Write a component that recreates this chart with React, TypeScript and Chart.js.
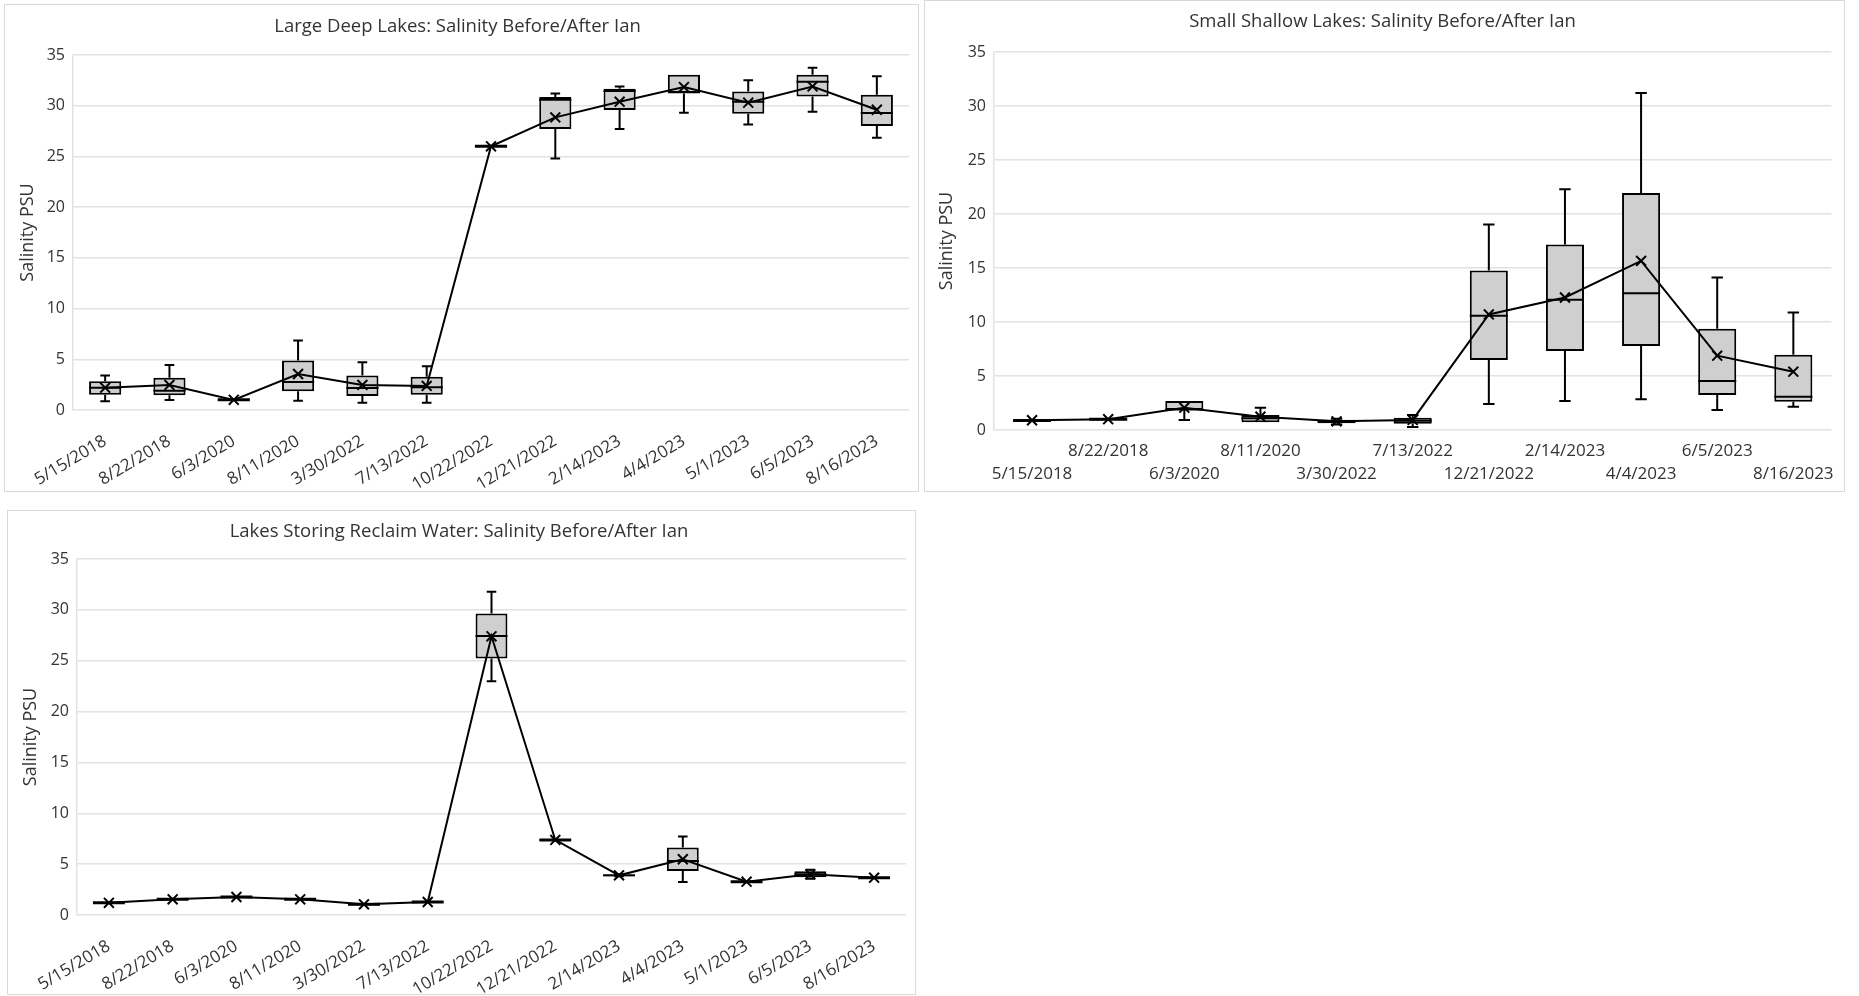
import React, { useEffect, useRef } from 'react';
import { Chart, registerables } from 'chart.js';
Chart.register(...registerables);

// ---------- Data ----------
const ldDates = ['5/15/2018', '8/22/2018', '6/3/2020', '8/11/2020', '3/30/2022', '7/13/2022', '10/22/2022', '12/21/2022', '2/14/2023', '4/4/2023', '5/1/2023', '6/5/2023', '8/16/2023'];
const ldMin = [0.86, 0.99, 1.0, 0.92, 0.72, 0.72, 26.0, 24.8, 27.7, 29.3, 28.15, 29.4, 26.84];
const ldQ1 = [1.51, 1.45, 1.0, 1.84, 1.38, 1.51, 26.0, 27.7, 29.57, 31.2, 29.2, 30.9, 27.99];
const ldMed = [2.2, 1.9, 1.0, 2.76, 2.17, 2.24, 26.0, 30.6, 31.45, 31.35, 30.4, 32.37, 29.28];
const ldQ3 = [2.83, 3.19, 1.0, 4.87, 3.39, 3.29, 26.0, 30.85, 31.68, 33.06, 31.4, 33.06, 31.09];
const ldMax = [3.39, 4.44, 1.0, 6.84, 4.7, 4.31, 26.0, 31.2, 31.9, 33.06, 32.5, 33.75, 32.9];
const ldMean = [2.2, 2.47, 1.0, 3.55, 2.47, 2.37, 26.0, 28.85, 30.4, 31.84, 30.3, 31.9, 29.6];

const ssDates = ['5/15/2018', '8/22/2018', '6/3/2020', '8/11/2020', '3/30/2022', '7/13/2022', '12/21/2022', '2/14/2023', '4/4/2023', '6/5/2023', '8/16/2023'];
const ssMin = [0.89, 0.99, 0.92, 0.71, 0.5, 0.28, 2.4, 2.68, 2.84, 1.85, 2.16];
const ssQ1 = [0.89, 0.99, 1.85, 0.71, 0.62, 0.59, 6.48, 7.31, 7.77, 3.24, 2.62];
const ssMed = [0.89, 0.99, 1.9, 1.08, 0.8, 0.86, 10.58, 12.06, 12.67, 4.53, 3.08];
const ssQ3 = [0.89, 0.99, 2.68, 1.39, 0.95, 1.14, 14.77, 17.18, 21.95, 9.37, 6.97];
const ssMax = [0.89, 0.99, 2.68, 2.07, 1.05, 1.39, 19.03, 22.3, 31.2, 14.12, 10.88];
const ssMean = [0.9, 1.0, 2.07, 1.23, 0.8, 0.93, 10.7, 12.27, 15.66, 6.88, 5.4];

const rwDates = ['5/15/2018', '8/22/2018', '6/3/2020', '8/11/2020', '3/30/2022', '7/13/2022', '10/22/2022', '12/21/2022', '2/14/2023', '4/4/2023', '5/1/2023', '6/5/2023', '8/16/2023'];
const rwMin = [1.21, 1.54, 1.77, 1.54, 1.05, 1.28, 22.99, 7.38, 3.8, 3.25, 3.28, 3.57, 3.67];
const rwQ1 = [1.21, 1.54, 1.77, 1.54, 1.05, 1.28, 25.22, 7.38, 3.82, 4.33, 3.28, 3.7, 3.67];
const rwMed = [1.21, 1.54, 1.77, 1.54, 1.05, 1.28, 27.42, 7.38, 3.9, 5.31, 3.28, 4.0, 3.67];
const rwQ3 = [1.21, 1.54, 1.77, 1.54, 1.05, 1.28, 29.65, 7.38, 3.98, 6.63, 3.28, 4.3, 3.67];
const rwMax = [1.21, 1.54, 1.77, 1.54, 1.05, 1.28, 31.78, 7.38, 4.0, 7.71, 3.28, 4.46, 3.67];
const rwMean = [1.2, 1.54, 1.77, 1.54, 1.05, 1.28, 27.4, 7.38, 3.9, 5.48, 3.28, 4.0, 3.67];

const yTicks = [0, 5, 10, 15, 20, 25, 30, 35];

const FONT = "'Open Sans', 'Noto Sans', sans-serif";
const TEXT = '#333333';
const TITLE_SIZE = 18.5;
const YTITLE_SIZE = 18;

// ---------- Box & whisker plugin ----------
const boxWhiskerPlugin = {
  id: 'boxWhisker',
  beforeDatasetsDraw(chart: any, _args: any, opts: any) {
    if (!opts || !opts.min) return;
    const meta = chart.getDatasetMeta(0);
    const y = chart.scales.y;
    const ctx = chart.ctx;
    ctx.save();
    ctx.strokeStyle = '#000';
    ctx.lineWidth = 2;
    meta.data.forEach((bar: any, i: number) => {
      const x = bar.x;
      const capW = bar.width * 0.3;
      const pMin = y.getPixelForValue(opts.min[i]);
      const pMax = y.getPixelForValue(opts.max[i]);
      const pQ1 = y.getPixelForValue(opts.q1[i]);
      const pQ3 = y.getPixelForValue(opts.q3[i]);
      ctx.beginPath();
      if (opts.max[i] > opts.q3[i]) {
        ctx.moveTo(x, pQ3);
        ctx.lineTo(x, pMax);
        ctx.moveTo(x - capW / 2, pMax);
        ctx.lineTo(x + capW / 2, pMax);
      }
      if (opts.min[i] < opts.q1[i]) {
        ctx.moveTo(x, pQ1);
        ctx.lineTo(x, pMin);
        ctx.moveTo(x - capW / 2, pMin);
        ctx.lineTo(x + capW / 2, pMin);
      }
      ctx.stroke();
    });
    ctx.restore();
  },
  afterDatasetDraw(chart: any, args: any, opts: any) {
    if (!opts || !opts.med || args.index !== 0) return;
    const meta = chart.getDatasetMeta(0);
    const y = chart.scales.y;
    const ctx = chart.ctx;
    ctx.save();
    ctx.strokeStyle = '#000';
    meta.data.forEach((bar: any, i: number) => {
      const flat = opts.q1[i] === opts.q3[i];
      ctx.lineWidth = flat ? 3 : 2;
      const p = y.getPixelForValue(opts.med[i]);
      ctx.beginPath();
      ctx.moveTo(bar.x - bar.width / 2, p);
      ctx.lineTo(bar.x + bar.width / 2, p);
      ctx.stroke();
    });
    ctx.restore();
  },
};

type PanelProps = {
  left: number; top: number; width: number; height: number;
  title: string; titleCenterY: number;
  areaLeft: number; areaRight: number; areaTop: number; areaBottom: number;
  yTitleX: number;
  dates: string[]; min: number[]; q1: number[]; med: number[]; q3: number[]; max: number[]; mean: number[];
  stagger: boolean;
};

function Panel(p: PanelProps) {
  const ref = useRef<HTMLCanvasElement>(null);
  useEffect(() => {
    const cw = p.width - 2;
    const ch = p.height - 2;
    const titleLH = TITLE_SIZE * 1.2;
    const titlePadTop = p.titleCenterY - titleLH / 2;
    const titlePadBottom = p.areaTop - titlePadTop - titleLH;
    const yTitleLH = YTITLE_SIZE * 1.2;
    const chart = new Chart(ref.current as HTMLCanvasElement, {
      type: 'bar',
      data: {
        labels: p.dates,
        datasets: [
          {
            type: 'bar',
            data: p.q1.map((v, i) => [v, p.q3[i]]) as any,
            backgroundColor: '#d0cfd0',
            borderColor: '#000',
            borderWidth: 2,
            borderSkipped: false,
            barPercentage: 0.5,
            categoryPercentage: 1.0,
            grouped: false,
            order: 2,
          } as any,
          {
            type: 'line',
            data: p.mean,
            borderColor: '#000',
            borderWidth: 2,
            pointStyle: 'crossRot',
            pointRadius: 7,
            pointBorderColor: '#000',
            pointBorderWidth: 2,
            pointBackgroundColor: '#000',
            tension: 0,
            fill: false,
            order: 1,
          } as any,
        ],
      },
      options: {
        animation: false,
        responsive: false,
        layout: { padding: { left: 0, right: cw - p.areaRight, top: 0, bottom: 0 } },
        plugins: {
          legend: { display: false },
          tooltip: { enabled: false },
          title: {
            display: true,
            text: p.title,
            color: TEXT,
            font: { family: FONT, size: TITLE_SIZE, weight: 'normal' as any, lineHeight: 1.2 },
            padding: { top: titlePadTop, bottom: titlePadBottom },
          },
          boxWhisker: { min: p.min, q1: p.q1, med: p.med, q3: p.q3, max: p.max },
        } as any,
        scales: {
          x: {
            type: 'category',
            offset: true,
            grid: { display: false, drawTicks: false },
            border: { display: false },
            ticks: {
              autoSkip: false,
              color: TEXT,
              font: { family: FONT, size: 17, lineHeight: p.stagger ? 1.35 : 1.2 },
              maxRotation: p.stagger ? 0 : 31,
              minRotation: p.stagger ? 0 : 31,
              padding: p.stagger ? 10 : 21,
              callback: function (this: any, _v: any, idx: number) {
                const lab = p.dates[idx];
                if (p.stagger) return idx % 2 === 0 ? ['', lab] : lab;
                return lab;
              },
            },
            afterFit: (s: any) => { s.height = ch - p.areaBottom; },
          },
          y: {
            min: 0,
            max: 35,
            afterBuildTicks: (s: any) => { s.ticks = yTicks.map((v) => ({ value: v })); },
            grid: { color: '#e2e2e2', lineWidth: 1.5, drawTicks: false },
            border: { display: true, color: '#e2e2e2', width: 1.5 },
            ticks: { color: TEXT, font: { family: FONT, size: 16 }, padding: 8 },
            title: {
              display: true,
              text: 'Salinity PSU',
              color: TEXT,
              font: { family: FONT, size: YTITLE_SIZE, lineHeight: 1.2 },
              padding: { top: p.yTitleX - yTitleLH / 2, bottom: 0 },
            },
            afterFit: (s: any) => { s.width = p.areaLeft; },
          },
        },
      } as any,
      plugins: [boxWhiskerPlugin],
    });
    return () => chart.destroy();
  }, []);
  return (
    <div
      style={{
        position: 'absolute',
        left: p.left,
        top: p.top,
        width: p.width,
        height: p.height,
        boxSizing: 'border-box',
        border: '1px solid #d9d9d9',
        background: '#fff',
      }}
    >
      <canvas ref={ref} width={p.width - 2} height={p.height - 2} style={{ display: 'block' }} />
    </div>
  );
}

export default function App() {
  return (
    <div style={{ position: 'absolute', left: 0, top: 0, width: 1859, height: 996 }}>
      <Panel
        left={4} top={4} width={915} height={488}
        title="Large Deep Lakes: Salinity Before/After Ian" titleCenterY={22}
        areaLeft={68} areaRight={905} areaTop={50} areaBottom={405}
        yTitleX={23}
        dates={ldDates} min={ldMin} q1={ldQ1} med={ldMed} q3={ldQ3} max={ldMax} mean={ldMean}
        stagger={false}
      />
      <Panel
        left={924} top={0} width={921} height={492}
        title="Small Shallow Lakes: Salinity Before/After Ian" titleCenterY={21}
        areaLeft={69} areaRight={915} areaTop={51} areaBottom={429}
        yTitleX={22}
        dates={ssDates} min={ssMin} q1={ssQ1} med={ssMed} q3={ssQ3} max={ssMax} mean={ssMean}
        stagger={true}
      />
      <Panel
        left={7} top={510} width={909} height={485}
        title="Lakes Storing Reclaim Water: Salinity Before/After Ian" titleCenterY={21}
        areaLeft={69} areaRight={902} areaTop={48} areaBottom={404}
        yTitleX={23}
        dates={rwDates} min={rwMin} q1={rwQ1} med={rwMed} q3={rwQ3} max={rwMax} mean={rwMean}
        stagger={false}
      />
    </div>
  );
}
